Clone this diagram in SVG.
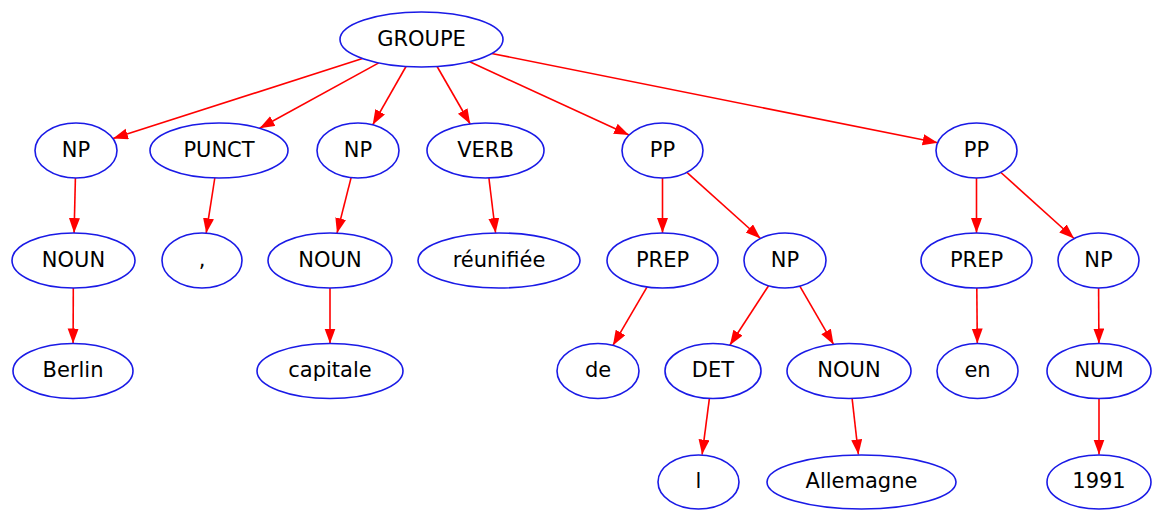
<svg xmlns="http://www.w3.org/2000/svg" width="1152" height="510" viewBox="0 0 1152 510">
<style>
.n ellipse{fill:#ffffff;stroke:#1a1ae6;stroke-width:1.6}
.n text{font-family:"DejaVu Sans",sans-serif;font-size:21px;fill:#000000;text-anchor:middle}
#edges line{stroke:#ff0000;stroke-width:1.6;marker-end:url(#arr)}
</style>
<defs>
<marker id="arr" markerUnits="userSpaceOnUse" markerWidth="16" markerHeight="12" refX="15" refY="5.5" orient="auto">
<path d="M0,0 L15,5.5 L0,11 z" fill="#ff0000"/>
</marker>
</defs>
<rect width="1152" height="510" fill="#ffffff"/>
<g id="edges">
<line x1="362.5" y1="58.5" x2="113" y2="138.6"/>
<line x1="378.8" y1="62.9" x2="259.6" y2="128.3"/>
<line x1="406" y1="66.5" x2="372.7" y2="124.8"/>
<line x1="437.1" y1="66.5" x2="470.2" y2="124"/>
<line x1="469.7" y1="61.7" x2="629" y2="135.1"/>
<line x1="491.6" y1="53.5" x2="937.7" y2="142.7"/>
<line x1="75.4" y1="178" x2="74.1" y2="233"/>
<line x1="214.8" y1="178" x2="206.2" y2="233.2"/>
<line x1="351.1" y1="177.6" x2="337" y2="233.2"/>
<line x1="488.9" y1="178" x2="495.6" y2="233"/>
<line x1="662.5" y1="178" x2="662.5" y2="233"/>
<line x1="686.9" y1="172.4" x2="760.5" y2="238.5"/>
<line x1="976.5" y1="178" x2="976.5" y2="233"/>
<line x1="1000.9" y1="172.5" x2="1074.1" y2="238.5"/>
<line x1="73.3" y1="288" x2="73.1" y2="343.5"/>
<line x1="330" y1="288" x2="330" y2="343.5"/>
<line x1="647.1" y1="286.9" x2="612.9" y2="345.4"/>
<line x1="768.6" y1="285.7" x2="729.8" y2="345.2"/>
<line x1="799.8" y1="286.1" x2="833.6" y2="344.4"/>
<line x1="976.8" y1="288" x2="977.3" y2="343.5"/>
<line x1="1098.6" y1="288" x2="1098.9" y2="343.5"/>
<line x1="709.4" y1="398.4" x2="702.1" y2="454.6"/>
<line x1="852.1" y1="398.4" x2="858.4" y2="454.5"/>
<line x1="1099" y1="398.5" x2="1099" y2="454.5"/>
</g>
<g id="n_groupe" class="n"><ellipse cx="421.5" cy="39.5" rx="81.5" ry="27.5"/><text x="421.5" y="45.5">GROUPE</text></g>
<g id="n_np1" class="n"><ellipse cx="76" cy="150.5" rx="41" ry="27.5"/><text x="76" y="156.5">NP</text></g>
<g id="n_punct" class="n"><ellipse cx="219" cy="150.5" rx="69" ry="27.5"/><text x="219" y="156.5">PUNCT</text></g>
<g id="n_np2" class="n"><ellipse cx="358" cy="150.5" rx="41" ry="27.5"/><text x="358" y="156.5">NP</text></g>
<g id="n_verb" class="n"><ellipse cx="485.5" cy="150.5" rx="58.5" ry="27.5"/><text x="485.5" y="156.5">VERB</text></g>
<g id="n_pp1" class="n"><ellipse cx="662.5" cy="150.5" rx="40.5" ry="27.5"/><text x="662.5" y="156.5">PP</text></g>
<g id="n_pp2" class="n"><ellipse cx="976.5" cy="150.5" rx="40.5" ry="27.5"/><text x="976.5" y="156.5">PP</text></g>
<g id="n_noun1" class="n"><ellipse cx="73.5" cy="260.5" rx="61.5" ry="27.5"/><text x="73.5" y="266.5">NOUN</text></g>
<g id="n_comma" class="n"><ellipse cx="202" cy="260.5" rx="40" ry="27.5"/><text x="202" y="266.5">,</text></g>
<g id="n_noun2" class="n"><ellipse cx="330" cy="260.5" rx="62" ry="27.5"/><text x="330" y="266.5">NOUN</text></g>
<g id="n_reunifiee" class="n"><ellipse cx="499" cy="260.5" rx="81" ry="27.5"/><text x="499" y="266.5">réunifiée</text></g>
<g id="n_prep1" class="n"><ellipse cx="662.5" cy="260.5" rx="55.5" ry="27.5"/><text x="662.5" y="266.5">PREP</text></g>
<g id="n_np3" class="n"><ellipse cx="785" cy="260.5" rx="41" ry="27.5"/><text x="785" y="266.5">NP</text></g>
<g id="n_prep2" class="n"><ellipse cx="976.5" cy="260.5" rx="55.5" ry="27.5"/><text x="976.5" y="266.5">PREP</text></g>
<g id="n_np4" class="n"><ellipse cx="1098.5" cy="260.5" rx="40.5" ry="27.5"/><text x="1098.5" y="266.5">NP</text></g>
<g id="n_berlin" class="n"><ellipse cx="73" cy="371" rx="60" ry="27.5"/><text x="73" y="377">Berlin</text></g>
<g id="n_capitale" class="n"><ellipse cx="330" cy="371" rx="73" ry="27.5"/><text x="330" y="377">capitale</text></g>
<g id="n_de" class="n"><ellipse cx="598" cy="371" rx="41" ry="27.5"/><text x="598" y="377">de</text></g>
<g id="n_det" class="n"><ellipse cx="713" cy="371" rx="48" ry="27.5"/><text x="713" y="377">DET</text></g>
<g id="n_noun3" class="n"><ellipse cx="849" cy="371" rx="62" ry="27.5"/><text x="849" y="377">NOUN</text></g>
<g id="n_en" class="n"><ellipse cx="977.5" cy="371" rx="40.5" ry="27.5"/><text x="977.5" y="377">en</text></g>
<g id="n_num" class="n"><ellipse cx="1099" cy="371" rx="52" ry="27.5"/><text x="1099" y="377">NUM</text></g>
<g id="n_l" class="n"><ellipse cx="698.5" cy="482" rx="40.5" ry="27"/><text x="698.5" y="488">l</text></g>
<g id="n_allemagne" class="n"><ellipse cx="861.5" cy="482" rx="94.5" ry="27"/><text x="861.5" y="488">Allemagne</text></g>
<g id="n_1991" class="n"><ellipse cx="1099" cy="482" rx="52" ry="27"/><text x="1099" y="488">1991</text></g>
</svg>
